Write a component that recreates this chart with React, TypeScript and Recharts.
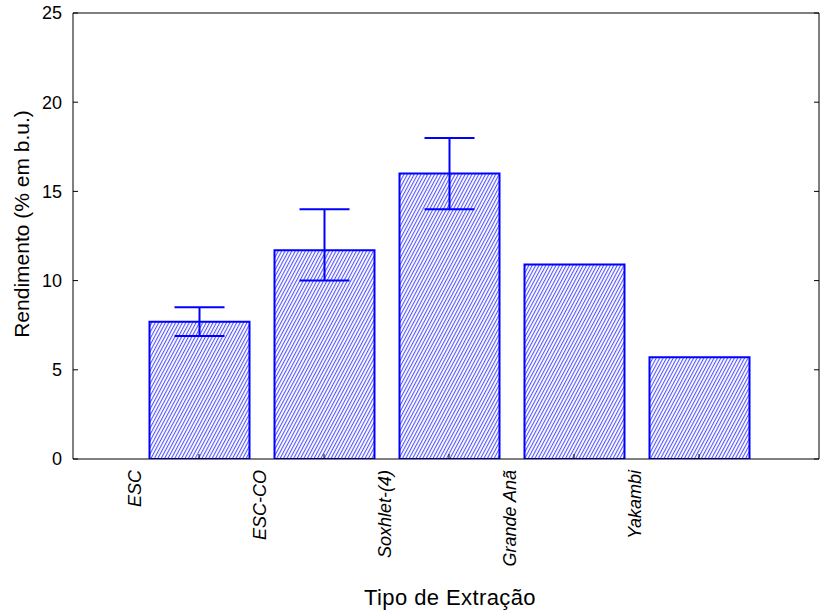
import React from 'react';
import { BarChart, Bar, XAxis, YAxis, ErrorBar, ReferenceLine, Label } from 'recharts';

const categories = ['ESC', 'ESC-CO', 'Soxhlet-(4)', 'Grande Anã', 'Yakambi'];
const rendimento = [7.7, 11.7, 16.0, 10.9, 5.7];
const errLow = [0.8, 1.7, 2.0, null, null];
const errHigh = [0.8, 2.3, 2.0, null, null];
const yTicks = [0, 5, 10, 15, 20, 25];

const data = categories.map((name, i) => ({
  name,
  value: rendimento[i],
  err: errLow[i] === null ? undefined : [errLow[i], errHigh[i]],
}));

const FONT = '"Liberation Sans", Arial, sans-serif';

// left axis: labels outside, small tick pointing into the plot
const LeftTick = (props: any) => {
  const { x, y, payload } = props;
  return (
    <g>
      <line x1={x + 11} y1={y} x2={x + 16} y2={y} stroke="#000" />
      <text x={x} y={y} dy="0.35em" textAnchor="end" fontSize={18} fill="#000" fontFamily={FONT}>
        {payload.value}
      </text>
    </g>
  );
};

const RightTick = (props: any) => {
  const { x, y } = props;
  return <line x1={x - 5} y1={y} x2={x} y2={y} stroke="#000" />;
};

// bottom axis: rotated italic labels sit half a band left of the tick
const BottomTick = (props: any) => {
  const { x, y, payload } = props;
  return (
    <g>
      <line x1={x} y1={y - 5} x2={x} y2={y} stroke="#000" />
      <text
        transform={`translate(${x - 64}, ${y + 11}) rotate(-90)`}
        dy="0.35em"
        textAnchor="end"
        fontSize={18}
        fontStyle="italic"
        fill="#000"
        fontFamily={FONT}
      >
        {payload.value}
      </text>
    </g>
  );
};

const App: React.FC = () => {
  return (
    <div style={{ position: 'absolute', left: 0, top: 0, width: 820, height: 611, background: '#fff' }}>
      <BarChart
        width={820}
        height={611}
        data={data}
        margin={{ top: 13, right: 0, bottom: 0, left: 0 }}
      >
        <defs>
          <pattern
            id="barHatch"
            patternUnits="userSpaceOnUse"
            width={3}
            height={6}
            patternTransform="rotate(28)"
          >
            <rect x={0} y={0} width={3} height={6} fill="#ffffff" />
            <rect x={0} y={0} width={1.1} height={6} fill="#5555ff" />
          </pattern>
        </defs>
        <XAxis
          dataKey="name"
          height={152}
          padding={{ left: 63.5, right: 57.5 }}
          stroke="#000"
          tickLine={false}
          tickSize={0}
          tickMargin={0}
          interval={0}
          tick={<BottomTick />}
        >
          <Label
            content={(p: any) => {
              const vb = p.viewBox;
              return (
                <text
                  x={vb.x + vb.width / 2 + 4}
                  y={vb.y + 146}
                  textAnchor="middle"
                  fontSize={22}
                  letterSpacing={0.4}
                  fill="#000"
                  fontFamily={FONT}
                >
                  Tipo de Extração
                </text>
              );
            }}
          />
        </XAxis>
        <YAxis
          yAxisId="left"
          width={73}
          domain={[0, 25]}
          ticks={yTicks}
          allowDataOverflow
          stroke="#000"
          tickLine={false}
          tickSize={0}
          tickMargin={11}
          tick={<LeftTick />}
        >
          <Label
            content={(p: any) => {
              const vb = p.viewBox;
              const cy = vb.y + vb.height / 2 - 12;
              return (
                <text
                  transform={`translate(29, ${cy}) rotate(-90)`}
                  textAnchor="middle"
                  fontSize={21}
                  fill="#000"
                  fontFamily={FONT}
                >
                  Rendimento (% em b.u.)
                </text>
              );
            }}
          />
        </YAxis>
        <YAxis
          yAxisId="right"
          orientation="right"
          width={1}
          domain={[0, 25]}
          ticks={yTicks}
          allowDataOverflow
          stroke="#000"
          tickLine={false}
          tickSize={0}
          tickMargin={0}
          tick={<RightTick />}
        />
        <ReferenceLine yAxisId="left" y={25} stroke="#000" />
        <Bar
          yAxisId="left"
          dataKey="value"
          barSize={100}
          fill="url(#barHatch)"
          stroke="#0000ff"
          strokeWidth={2}
          isAnimationActive={false}
        >
          <ErrorBar dataKey="err" width={25} stroke="#0000ff" strokeWidth={2} isAnimationActive={false} />
        </Bar>
      </BarChart>
    </div>
  );
};

export default App;
